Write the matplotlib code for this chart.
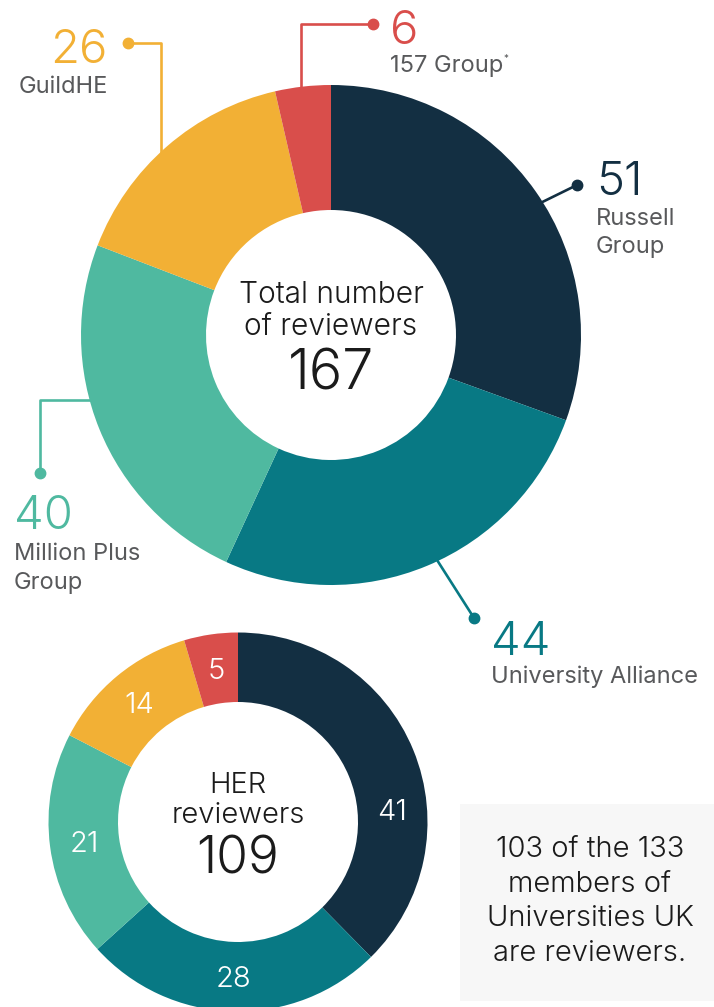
import matplotlib.pyplot as plt
from matplotlib.patches import Rectangle
import numpy as np

W, H = 714, 1007

# data
groups = ["Russell\nGroup", "University Alliance", "Million Plus\nGroup", "GuildHE", "157 Group"]
total_reviewers = [51, 44, 40, 26, 6]
her_reviewers = [41, 28, 21, 14, 5]
colours = ["#132f42", "#087984", "#4fb9a0", "#f2b035", "#d94e4b"]
uuk_members = 133
uuk_reviewers = 103

plt.rcParams['font.family'] = ['Inter', 'DejaVu Sans']
dark = "#1b1b1b"
grey = "#58595b"

def fy(y):
    # pixel row -> data y
    return H - y

fig = plt.figure(figsize=(W / 100, H / 100), dpi=100)
ax = fig.add_axes([0, 0, 1, 1])

# ---- big donut
big_c = (331, fy(335))
ax.pie(total_reviewers, colors=colours, startangle=90, counterclock=False,
       center=big_c, radius=250, wedgeprops=dict(width=125, linewidth=0))

# ---- small donut
small_c = (238, fy(822))
ax.pie(her_reviewers, colors=colours, startangle=90, counterclock=False,
       center=small_c, radius=189.5, wedgeprops=dict(width=69.5, linewidth=0))

# white value labels on the small donut, middle of the ring
label_shift = [-18, 0, 0, 0, 0]
tot = sum(her_reviewers)
ang = 90
r_mid = 189.5 - 69.5 / 2
for v, sh in zip(her_reviewers, label_shift):
    span = v / tot * 360
    a = np.deg2rad(ang - span / 2 + sh)
    ax.text(small_c[0] + r_mid * np.cos(a), small_c[1] + r_mid * np.sin(a) - 10, str(v),
            color="white", fontsize=21, fontweight=300, ha='center', va='baseline')
    ang -= span

# ---- leader lines (pixel paths), dot at the end
leaders = [
    [(520, 213), (577, 185)],
    [(430, 549), (474, 618)],
    [(100, 400), (40, 400), (40, 473)],
    [(161, 165), (161, 43), (128, 43)],
    [(301, 100), (301, 24), (373, 24)],
]
for path, c in zip(leaders, colours):
    xs = [p[0] for p in path]
    ys = [fy(p[1]) for p in path]
    ax.plot(xs, ys, color=c, lw=1.9, zorder=0.5, solid_capstyle='butt')
    ax.plot(xs[-1], ys[-1], 'o', color=c, ms=7.5, zorder=3)

# number + name placement: x, baseline of number, baseline of first name line, align
label_pos = [
    (596, 195, 225, 'left'),
    (491, 655, 683, 'left'),
    (14, 529, 560, 'left'),
    (108, 63, 93, 'right'),
    (390, 44, 72, 'left'),
]
for v, name, c, (x, yn, yl, ha) in zip(total_reviewers, groups, colours, label_pos):
    ax.text(x, fy(yn), str(v), color=c, fontsize=34, fontweight=300, ha=ha, va='baseline')
    for j, part in enumerate(name.split("\n")):
        ax.text(x, fy(yl + j * 28.5), part, color=grey, fontsize=17, ha=ha, va='baseline')
ax.text(503, fy(62), "*", color=grey, fontsize=7, ha='left', va='baseline')

# ---- centre texts
ax.text(big_c[0], fy(303), "Total number", color=dark, fontsize=21.5, fontweight=300, ha='center', va='baseline')
ax.text(big_c[0], fy(335), "of reviewers", color=dark, fontsize=21.5, fontweight=300, ha='center', va='baseline')
ax.text(big_c[0], fy(390), str(sum(total_reviewers)), color=dark, fontsize=40, fontweight=300,
        ha='center', va='baseline')

ax.text(small_c[0], fy(793), "HER", color=dark, fontsize=21, fontweight=300, ha='center', va='baseline')
ax.text(small_c[0], fy(823), "reviewers", color=dark, fontsize=21, fontweight=300, ha='center', va='baseline')
ax.text(small_c[0], fy(873), str(sum(her_reviewers)), color=dark, fontsize=37, fontweight=300,
        ha='center', va='baseline')

# ---- grey note box
ax.add_patch(Rectangle((460, fy(1001)), 260, 197, facecolor="#f7f7f7", edgecolor='none', zorder=0))
note = [f"{uuk_reviewers} of the {uuk_members}", "members of", "Universities UK", "are reviewers."]
for i, line in enumerate(note):
    ax.text(590, fy(857 + i * 34.6), line, color=dark, fontsize=21, fontweight=300, ha='center', va='baseline')

ax.set_xlim(0, W)
ax.set_ylim(0, H)
ax.set_aspect('auto')
ax.axis('off')

fig.savefig("out.png", dpi=100)
